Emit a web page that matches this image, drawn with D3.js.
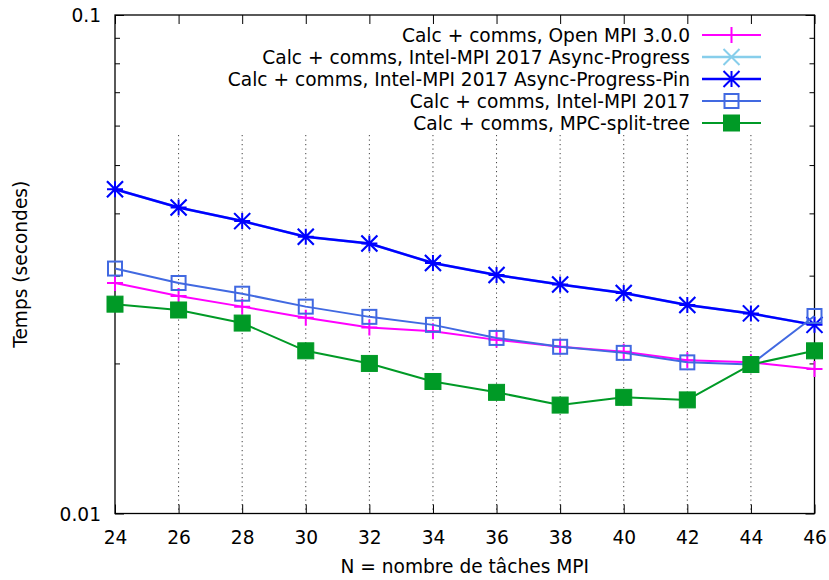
<!DOCTYPE html>
<html><head><meta charset="utf-8">
<script src="https://cdn.jsdelivr.net/npm/d3@7"></script>
<style>body{margin:0;background:#fff}svg{display:block}text{font-family:"DejaVu Sans",sans-serif;fill:#000}</style>
</head><body><svg id="c" width="829" height="580"></svg>
<script>
const nTasks = [24,26,28,30,32,34,36,38,40,42,44,46];
const openMpi   = [0.0290,0.0273,0.0260,0.0247,0.0236,0.0232,0.0223,0.0216,0.0211,0.0203,0.0201,0.0195];
const asyncProg = [0.0447,0.0411,0.0386,0.0359,0.0348,0.0318,0.0301,0.0288,0.0277,0.0262,0.0252,0.0239];
const asyncPin  = [0.0447,0.0411,0.0386,0.0359,0.0348,0.0318,0.0301,0.0288,0.0277,0.0262,0.0252,0.0239];
const intelMpi  = [0.0310,0.0290,0.0276,0.0260,0.0248,0.0239,0.0225,0.0216,0.0210,0.0201,0.0199,0.0249];
const mpcSplit  = [0.0263,0.0256,0.0241,0.0212,0.0200,0.0184,0.0175,0.0165,0.0171,0.0169,0.0199,0.0212];
const seriesNames = ["Calc + comms, Open MPI 3.0.0","Calc + comms, Intel-MPI 2017 Async-Progress","Calc + comms, Intel-MPI 2017 Async-Progress-Pin","Calc + comms, Intel-MPI 2017","Calc + comms, MPC-split-tree"];
const xTicks = [24,26,28,30,32,34,36,38,40,42,44,46];
const yMajor = [0.01,0.1];
const yMinor = [0.02,0.03,0.04,0.05,0.06,0.07,0.08,0.09];
const xLabel = "N = nombre de tâches MPI";
const yLabel = "Temps (secondes)";

const series = [
  {name:seriesNames[0], values:openMpi, color:"#ff00ff", marker:"plus", lw:2},
  {name:seriesNames[1], values:asyncProg, color:"#87ceeb", marker:"cross", lw:2.5},
  {name:seriesNames[2], values:asyncPin, color:"#0000ff", marker:"star", lw:2.5},
  {name:seriesNames[3], values:intelMpi, color:"#4169e1", marker:"square", lw:2},
  {name:seriesNames[4], values:mpcSplit, color:"#009a26", marker:"fsquare", lw:2}
];

const FS = "18.6px";
const L=115, R=814.5, T=15, B=513.5;
const x = d3.scaleLinear().domain([24,46]).range([L,R]);
const y = d3.scaleLog().domain([0.01,0.1]).range([B,T]);
const svg = d3.select("#c");

// grid
svg.append("g").selectAll("line").data(xTicks.slice(1,-1)).join("line")
  .attr("x1",d=>x(d)).attr("x2",d=>x(d)).attr("y1",135).attr("y2",B)
  .attr("stroke","#000").attr("stroke-width",1).attr("stroke-dasharray","1.2,3.3").attr("opacity",0.75);

// axes ticks
const axB = svg.append("g").attr("transform",`translate(0,${B})`)
  .call(d3.axisBottom(x).tickValues(xTicks).tickSize(-9).tickPadding(17).tickFormat(d3.format("d")));
const axT = svg.append("g").attr("transform",`translate(0,${T})`)
  .call(d3.axisTop(x).tickValues(xTicks).tickSize(-9).tickFormat(""));
const axL = svg.append("g").attr("transform",`translate(${L},0)`)
  .call(d3.axisLeft(y).tickValues(yMajor).tickSize(-9).tickPadding(14).tickFormat(d=>d===0.1?"0.1":"0.01"));
const axLm = svg.append("g").attr("transform",`translate(${L},0)`)
  .call(d3.axisLeft(y).tickValues(yMinor).tickSize(-5).tickFormat(""));
const axR = svg.append("g").attr("transform",`translate(${R},0)`)
  .call(d3.axisRight(y).tickValues(yMajor).tickSize(-9).tickFormat(""));
const axRm = svg.append("g").attr("transform",`translate(${R},0)`)
  .call(d3.axisRight(y).tickValues(yMinor).tickSize(-5).tickFormat(""));
[axB,axT,axL,axLm,axR,axRm].forEach(g=>{
  g.select(".domain").remove();
  g.selectAll("line").attr("stroke","#000").attr("stroke-width",1);
  g.selectAll("text").style("font-family","DejaVu Sans").style("font-size",FS).attr("fill","#000");
});
axB.selectAll("text").attr("dy","0.71em");
axL.selectAll("text").attr("dy","0.35em");

svg.append("rect").attr("x",L).attr("y",T).attr("width",R-L).attr("height",B-T)
  .attr("fill","none").attr("stroke","#000").attr("stroke-width",1.3);

function drawMarker(g, cx, cy, type, color){
  const s=8;
  if(type==="plus"){
    g.append("path").attr("d",`M${cx-s},${cy}H${cx+s}M${cx},${cy-s}V${cy+s}`).attr("stroke",color).attr("stroke-width",2).attr("fill","none");
  } else if(type==="cross"){
    g.append("path").attr("d",`M${cx-s},${cy-s}L${cx+s},${cy+s}M${cx-s},${cy+s}L${cx+s},${cy-s}`).attr("stroke",color).attr("stroke-width",2).attr("fill","none");
  } else if(type==="star"){
    g.append("path").attr("d",`M${cx-s},${cy}H${cx+s}M${cx},${cy-s}V${cy+s}M${cx-s},${cy-s}L${cx+s},${cy+s}M${cx-s},${cy+s}L${cx+s},${cy-s}`).attr("stroke",color).attr("stroke-width",2).attr("fill","none");
  } else if(type==="square"){
    g.append("rect").attr("x",cx-7).attr("y",cy-7).attr("width",14).attr("height",14).attr("fill","none").attr("stroke",color).attr("stroke-width",2);
  } else if(type==="fsquare"){
    g.append("rect").attr("x",cx-8).attr("y",cy-8).attr("width",16).attr("height",16).attr("fill",color).attr("stroke",color).attr("stroke-width",1);
  }
}

const line = d3.line().x((d,i)=>x(nTasks[i])).y(d=>y(d));
series.forEach(s=>{
  const g = svg.append("g");
  g.append("path").attr("d",line(s.values)).attr("fill","none").attr("stroke",s.color).attr("stroke-width",s.lw).attr("stroke-linejoin","round");
  s.values.forEach((v,i)=>drawMarker(g, x(nTasks[i]), y(v), s.marker, s.color));
});

// legend
const legY = [35,57,79,101,123];
const leg = svg.append("g");
series.forEach((s,i)=>{
  leg.append("text").attr("x",690).attr("y",legY[i]).attr("dy","0.35em").attr("text-anchor","end").style("font-size",FS).text(s.name);
  leg.append("line").attr("x1",702).attr("x2",761).attr("y1",legY[i]).attr("y2",legY[i]).attr("stroke",s.color).attr("stroke-width",s.lw);
  drawMarker(leg, 731.5, legY[i], s.marker, s.color);
});

svg.append("text").attr("x",(L+R)/2).attr("y",573).attr("text-anchor","middle").style("font-size",FS).text(xLabel);
svg.append("text").attr("transform",`translate(27,${(T+B)/2}) rotate(-90)`).attr("text-anchor","middle").style("font-size",FS).text(yLabel);
</script></body></html>
